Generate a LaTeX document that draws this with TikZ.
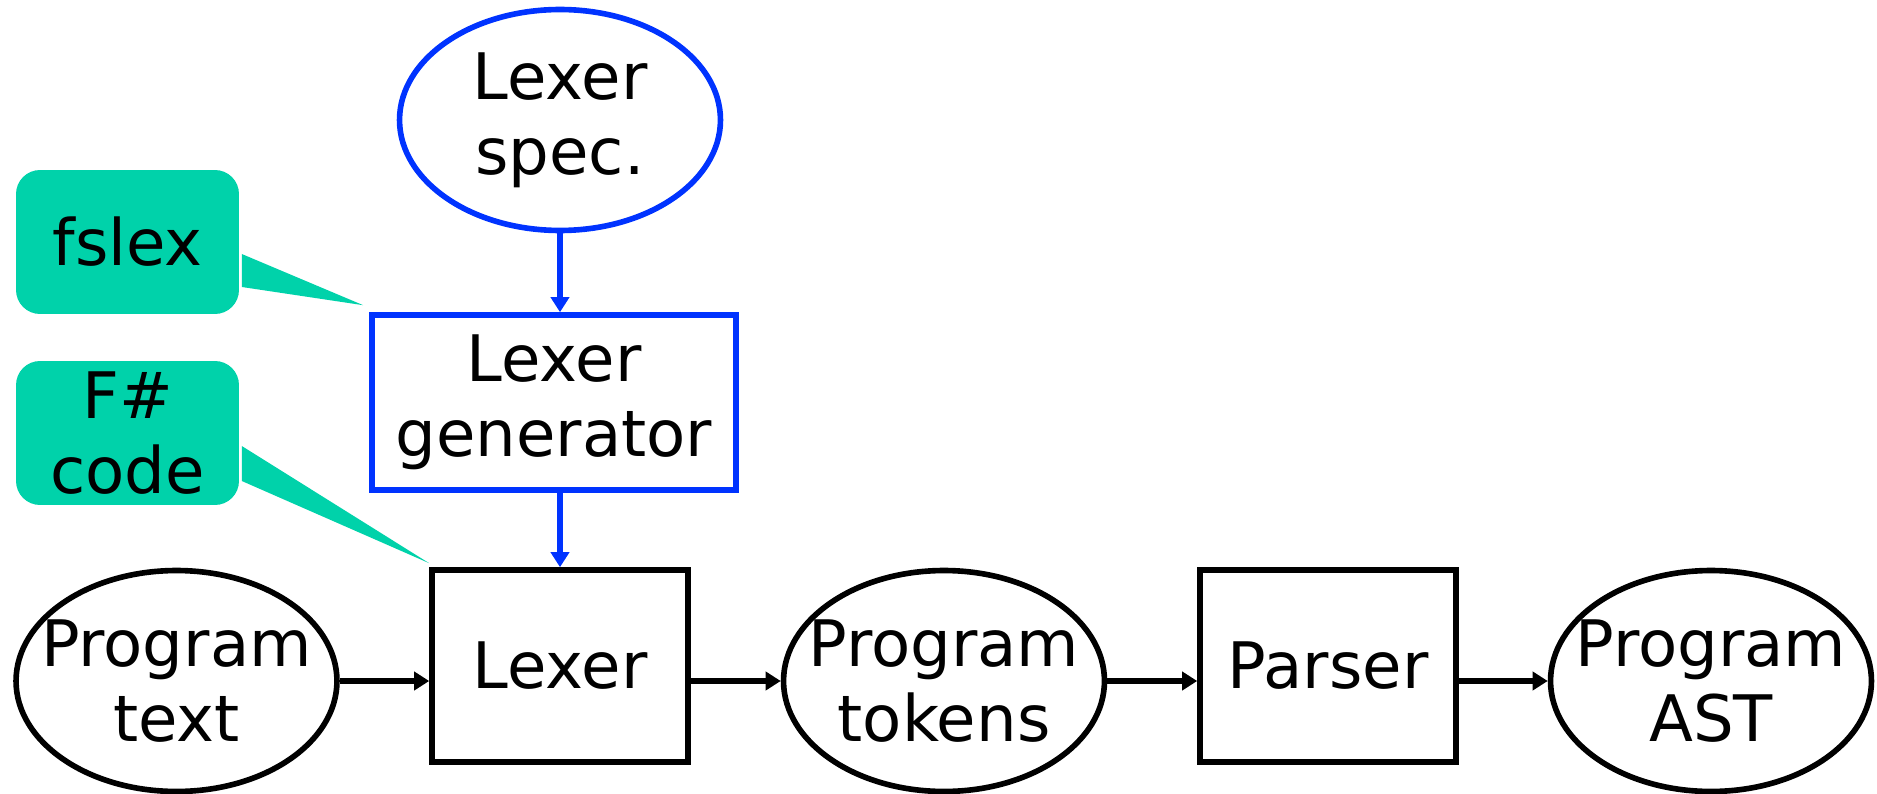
\documentclass[tikz,border=0pt]{standalone}
\usepackage{fontspec}
\setmainfont{DejaVu Sans}
\usepackage{xcolor}
\usetikzlibrary{shapes.geometric,arrows.meta}
\definecolor{lexblue}{RGB}{0,51,255}
\definecolor{notegreen}{RGB}{0,210,170}

\begin{document}
\begin{tikzpicture}[x=0.02cm, y=-0.02cm, font=\fontsize{36.5}{42.7}\selectfont, line width=3.2pt,
    data/.style={ellipse, draw=black, minimum width=6.42cm, minimum height=4.42cm, inner sep=-1cm, align=center},
    tool/.style={rectangle, draw=black, inner sep=0pt, align=center, minimum width=5.12cm, minimum height=3.84cm},
    note/.style={fill=notegreen, rounded corners=0.48cm, minimum width=4.46cm, minimum height=2.88cm, inner sep=0pt, align=center},
    flow/.style={-{Triangle[length=0.3cm,width=0.36cm]}}]

\useasboundingbox (0,0) rectangle (1877,794);

\node[data, draw=lexblue] (spec) at (560,120) {Lexer\\spec.};
\node[tool, draw=lexblue, minimum width=7.28cm, minimum height=3.5cm] (gen) at (554,402.5) {Lexer\\generator};
\node[tool] (lexer) at (560,666) {Lexer};
\node[tool] (parser) at (1328,666) {Parser};
\node[data] (ptext) at (176.5,681) {Program\\text};
\node[data] (ptoks) at (944,681) {Program\\tokens};
\node[data] (ast) at (1711,681) {Program\\AST};

% notes
\node[note] (fslex) at (127.5,242) {fslex};
\node[note] (fscode) at (127.5,433) {F\#\\code};
\fill[notegreen] ([yshift=-0.24cm]fslex.east) -- ([shift={(-6,-7)}]gen.north west) -- ([yshift=-0.9cm]fslex.east) -- cycle;
\fill[notegreen] ([yshift=-0.26cm]fscode.east) -- ([yshift=0.08cm]lexer.north west) -- ([yshift=-0.96cm]fscode.east) -- cycle;

\draw[flow, lexblue] (spec.south) -- (spec.south |- gen.north);
\draw[flow, lexblue] (gen.south -| lexer.north) -- (lexer.north);
\draw[flow] (ptext.east) -- (ptext.east -| lexer.west);
\draw[flow] (lexer.east |- ptoks.west) -- (ptoks.west);
\draw[flow] (ptoks.east) -- (ptoks.east -| parser.west);
\draw[flow] (parser.east |- ast.west) -- (ast.west);

\end{tikzpicture}
\end{document}
